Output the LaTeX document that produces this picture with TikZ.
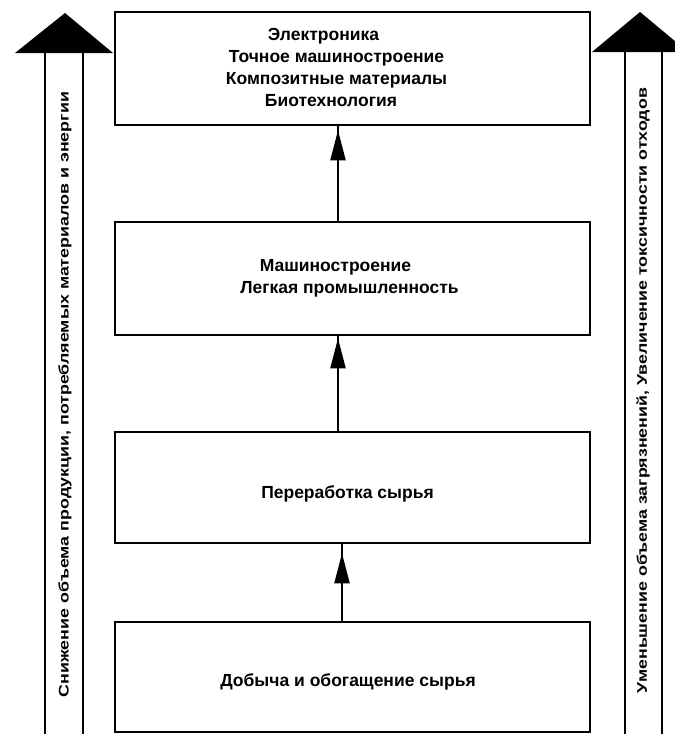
\documentclass[tikz,border=0pt]{standalone}
\usepackage{fontspec}
\setmainfont{Liberation Sans}
\usetikzlibrary{arrows.meta}
\begin{document}
\begin{tikzpicture}[x=1pt,y=-1pt,
  box/.style={draw, line width=2.5pt, minimum width=475pt, inner sep=0pt},
  lbl/.style={font=\fontsize{17.5}{22}\selectfont\bfseries, inner sep=0pt, anchor=base},
  side/.style={font=\fontsize{14}{16}\selectfont\bfseries, inner sep=0pt, rotate=90},
  bigline/.style={line width=2.5pt},
  flow/.style={line width=2pt},
  flowtip/.style={line width=2pt, -{Triangle[length=30pt,width=15pt]}, shorten >=4pt}]
\useasboundingbox (0,0) rectangle (675,734);
\clip (0,0) rectangle (675,734);

% boxes
\node[box, minimum height=113pt] (b1) at (352.5,68.5) {};
\node[box, minimum height=113pt] (b2) at (352.5,278.5) {};
\node[box, minimum height=111pt] (b3) at (352.5,487.5) {};
\node[box, minimum height=110pt] (b4) at (352.5,677) {};

% box texts
\node[lbl] (t11) at (323.5,40) {Электроника};
\node[lbl] (t12) at (336.5,62) {Точное машиностроение};
\node[lbl] (t13) at (336.5,84) {Композитные материалы};
\node[lbl] (t14) at (331,106) {Биотехнология};
\node[lbl] (t21) at (335.5,271) {Машиностроение};
\node[lbl] (t22) at (349.5,293) {Легкая промышленность};
\node[lbl] (t31) at (347.5,498) {Переработка сырья};
\node[lbl] (t41) at (348,686) {Добыча и обогащение сырья};

% connectors between boxes
\draw[flow] ([xshift=-14.5pt]b2.north) -- ([xshift=-14.5pt]b1.south);
\draw[flowtip] ([xshift=-14.5pt]b2.north) -- ([xshift=-14.5pt]b1.south);
\draw[flow] ([xshift=-14.5pt]b3.north) -- ([xshift=-14.5pt]b2.south);
\draw[flowtip, shorten >=2pt] ([xshift=-14.5pt]b3.north) -- ([xshift=-14.5pt]b2.south);
\draw[flow] ([xshift=-10.5pt]b4.north) -- ([xshift=-10.5pt]b3.south);
\draw[flowtip, shorten >=9pt] ([xshift=-10.5pt]b4.north) -- ([xshift=-10.5pt]b3.south);

% left big arrow
\fill (15,53) -- (65,13) -- (113,53) -- cycle;
\draw[bigline] (45,53) -- (45,734);
\draw[bigline] (83,53) -- (83,734);
\node[side] (lt) at (65,394.5) {\resizebox{605pt}{\height}{Снижение объема продукции, потребляемых материалов и энергии}};

% right big arrow
\fill (592,52) -- (640,12) -- (688,52) -- cycle;
\draw[bigline] (625,52) -- (625,734);
\draw[bigline] (662,52) -- (662,734);
\node[side] (rt) at (643,390.5) {\resizebox{605pt}{\height}{Уменьшение объема загрязнений, Увеличение токсичности отходов}};
\end{tikzpicture}
\end{document}
